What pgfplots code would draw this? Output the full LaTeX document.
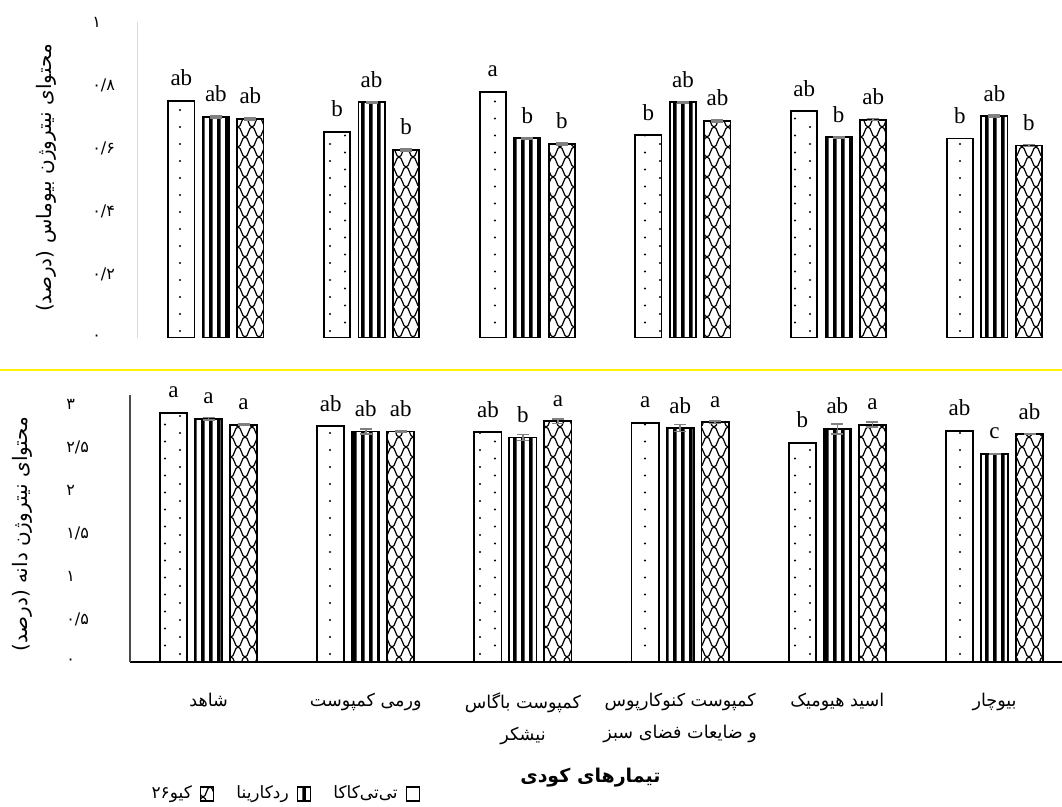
\documentclass[border=0pt]{standalone}
\usepackage{pgfplots}
\pgfplotsset{compat=1.18}
\usepackage{fontspec}
\usetikzlibrary{patterns}
\setmainfont{Liberation Serif}
\newfontfamily\fa[Script=Arabic]{DejaVu Sans}
\TeXXeTstate=1

% bar fills
\pgfdeclarepatternformonly{sdots}{\pgfqpoint{-1pt}{-1pt}}{\pgfqpoint{16pt}{9.5pt}}{\pgfqpoint{15pt}{8.5pt}}{%
  \pgfpathcircle{\pgfqpoint{0pt}{0pt}}{0.55pt}
  \pgfpathcircle{\pgfqpoint{7.5pt}{4.25pt}}{0.55pt}
  \pgfusepath{fill}}
\pgfdeclarepatternformonly{vstripes}{\pgfqpoint{0pt}{0pt}}{\pgfqpoint{4.2pt}{40pt}}{\pgfqpoint{4.2pt}{40pt}}{%
  \pgfpathrectangle{\pgfqpoint{0pt}{-1pt}}{\pgfqpoint{1.9pt}{42pt}}
  \pgfusepath{fill}}
\pgfdeclarepatternformonly{waves}{\pgfqpoint{-0.5pt}{-0.5pt}}{\pgfqpoint{7.5pt}{10.5pt}}{\pgfqpoint{7pt}{10pt}}{%
  \pgfsetlinewidth{0.6pt}
  \pgfpathmoveto{\pgfqpoint{0pt}{0pt}}
  \pgfpathcurveto{\pgfqpoint{1.75pt}{0pt}}{\pgfqpoint{1.75pt}{5pt}}{\pgfqpoint{3.5pt}{5pt}}
  \pgfpathcurveto{\pgfqpoint{5.25pt}{5pt}}{\pgfqpoint{5.25pt}{0pt}}{\pgfqpoint{7pt}{0pt}}
  \pgfpathmoveto{\pgfqpoint{0pt}{10pt}}
  \pgfpathcurveto{\pgfqpoint{1.75pt}{10pt}}{\pgfqpoint{1.75pt}{5pt}}{\pgfqpoint{3.5pt}{5pt}}
  \pgfpathcurveto{\pgfqpoint{5.25pt}{5pt}}{\pgfqpoint{5.25pt}{10pt}}{\pgfqpoint{7pt}{10pt}}
  \pgfusepath{stroke}}

\pgfplotsset{
  panel/.style={
    scale only axis, anchor=south west,
    axis lines*=left, enlargelimits=false,
    xmin=-0.5, ymin=0, ybar,
    tick style={draw=none},
    yticklabel style={anchor=west, inner sep=0pt, font=\fa\fontsize{8}{8}\selectfont},
    nodes near coords, point meta=explicit symbolic,
    every node near coord/.append style={anchor=base, inner sep=0pt, yshift=7.5pt,
      font=\fontsize{11.5}{12}\selectfont, text=black},
    legend image code/.code={\draw[#1, line width=0.8pt] (0pt,-3.5pt) rectangle (6.5pt,3.5pt);},
  },
  ebar/.style={error bars/.cd, y dir=both, y explicit,
    error bar style={gray, line width=0.8pt},
    error mark options={gray, rotate=90, mark size=3pt, line width=0.8pt}},
}

\begin{document}
\begin{tikzpicture}
\useasboundingbox (0,0) rectangle (531pt,403.5pt);
\clip (0,0) rectangle (531pt,403.5pt);

% top: biomass N
\begin{axis}[panel,
  at={(69pt,234.5pt)}, width=462pt, height=158pt,
  xmax=5.434, ymax=1,
  xtick=\empty,
  ytick={0,0.2,0.4,0.6,0.8,1},
  yticklabels={۰,۰/۲,۰/۴,۰/۶,۰/۸,۱},
  yticklabel style={xshift=-23pt},
  x axis line style={draw=none},
  y axis line style={draw=gray!30, line width=0.5pt},
  ylabel={\fa\beginR محتوای نیتروژن بیوماس (درصد)\endR},
  ylabel style={at={(axis description cs:-0.099,0.506)}, anchor=center, font=\fontsize{10}{10}\selectfont},
]
\addplot[draw=black, line width=0.9pt, pattern=sdots, bar width=13.1pt, bar shift=-17.25pt]
  table[x=x, y=y, meta=l] {
x y l
0 0.751 ab
1 0.653 b
2 0.779 a
3 0.642 b
4 0.718 ab
5 0.631 b
};
\addplot[draw=black, line width=0.9pt, pattern=vstripes, bar width=13.1pt, bar shift=0pt, ebar]
  table[x=x, y=y, y error=e, meta=l] {
x y e l
0 0.700 0.003 ab
1 0.746 0.003 ab
2 0.632 0.003 b
3 0.746 0.003 ab
4 0.635 0.003 b
5 0.702 0.003 ab
};
\addplot[draw=black, line width=0.9pt, pattern=waves, bar width=13.1pt, bar shift=17.25pt, ebar]
  table[x=x, y=y, y error=e, meta=l] {
x y e l
0 0.693 0.003 ab
1 0.595 0.003 b
2 0.614 0.003 b
3 0.687 0.003 ab
4 0.691 0.003 ab
5 0.609 0.003 b
};
\end{axis}

\draw[yellow, line width=1pt] (0,218.5pt) -- (531pt,218.5pt);

% bottom: grain N
\begin{axis}[panel,
  at={(65pt,72.5pt)}, width=466pt, height=133.5pt,
  xmax=5.429, ymax=3.105,
  xtick={0,...,5},
  xticklabels={
    {\beginR شاهد\endR},
    {\beginR ورمی کمپوست\endR},
    {\beginR کمپوست باگاس\endR\\\beginR نیشکر\endR},
    {\beginR کمپوست کنوکارپوس\endR\\\beginR و ضایعات فضای سبز\endR},
    {\beginR اسید هیومیک\endR},
    {\beginR بیوچار\endR}},
  xticklabel style={font=\fa\fontsize{8.8}{16}\selectfont, align=center, anchor=north, inner sep=0pt, yshift=-11pt},
  ytick={0,0.5,1,1.5,2,2.5,3},
  yticklabels={۰,۰/۵,۱,۱/۵,۲,۲/۵,۳},
  yticklabel style={xshift=-32pt},
  x axis line style={draw=black, line width=1pt},
  y axis line style={draw=black!70, line width=0.7pt},
  ylabel={\fa\beginR محتوای نیتروژن دانه (درصد)\endR},
  ylabel style={at={(axis description cs:-0.116,0.479)}, anchor=center, font=\fontsize{10}{10}\selectfont},
  xlabel={\fa\bfseries\beginR تیمارهای کودی\endR},
  xlabel style={at={(axis description cs:0.494,-0.434)}, anchor=center, font=\fontsize{9.5}{10}\selectfont},
  legend style={at={(axis description cs:0.012,-0.494)}, anchor=west, draw=none, fill=none,
    font=\fa\fontsize{8.5}{10}\selectfont,
    /tikz/every odd column/.append style={column sep=2pt},
    /tikz/every even column/.append style={column sep=9pt}},
  legend columns=3, legend plot pos=right, reverse legend,
]
\addplot[draw=black, line width=0.9pt, pattern=sdots, bar width=13.6pt, bar shift=-17.5pt]
  table[x=x, y=y, meta=l] {
x y l
0 2.90 a
1 2.74 ab
2 2.67 ab
3 2.78 a
4 2.55 b
5 2.69 ab
};
\addlegendentry{\beginR تی^^^^200cتی^^^^200cکاکا\endR}
\addplot[draw=black, line width=0.9pt, pattern=vstripes, bar width=13.6pt, bar shift=0pt, ebar]
  table[x=x, y=y, y error=e, meta=l] {
x y e l
0 2.83 0.015 a
1 2.68 0.030 ab
2 2.61 0.035 b
3 2.72 0.040 ab
4 2.71 0.060 ab
5 2.42 0.005 c
};
\addlegendentry{\beginR ردکارینا\endR}
\addplot[draw=black, line width=0.9pt, pattern=waves, bar width=13.6pt, bar shift=17.5pt, ebar]
  table[x=x, y=y, y error=e, meta=l] {
x y e l
0 2.76 0.010 a
1 2.68 0.005 ab
2 2.80 0.025 a
3 2.79 0.015 a
4 2.76 0.030 a
5 2.65 0.005 ab
};
\addlegendentry{\beginR کیو۲۶\endR}
\end{axis}
\end{tikzpicture}
\end{document}
